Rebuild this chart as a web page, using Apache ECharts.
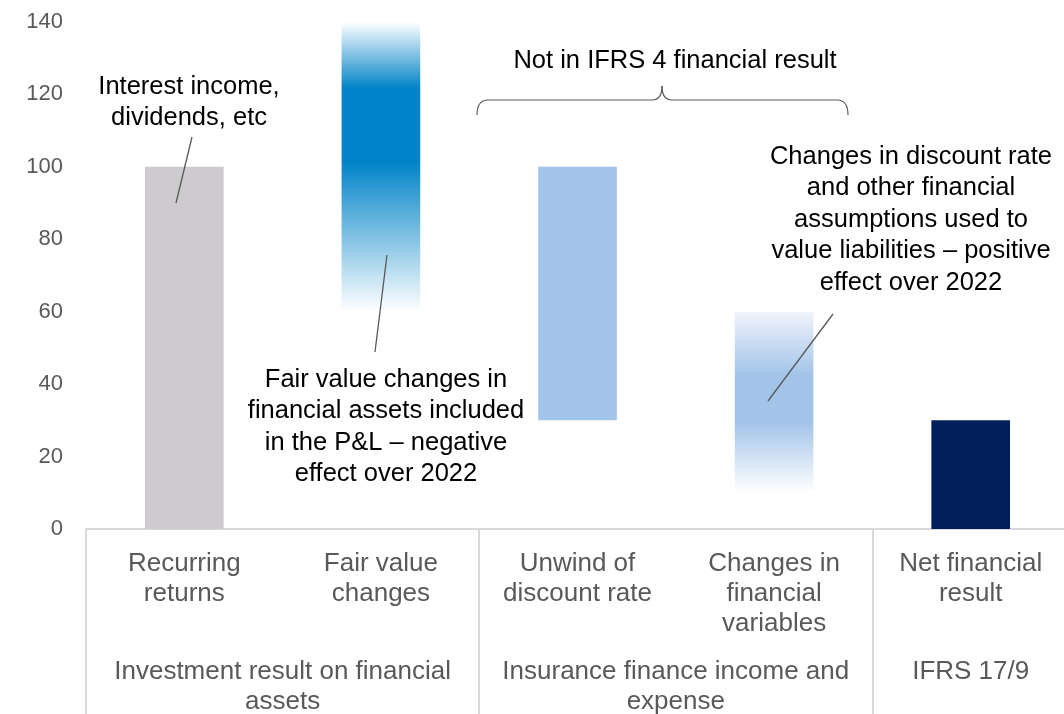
<!DOCTYPE html>
<html>
<head>
<meta charset="utf-8">
<script src="https://cdn.jsdelivr.net/npm/echarts@6/dist/echarts.min.js"></script>
<style>
  html, body { margin: 0; padding: 0; background: #fff; }
  #chart { width: 1064px; height: 714px; }
</style>
</head>
<body>
<div id="chart"></div>
<script>
// categories and grouping
const categories = ['Recurring\nreturns', 'Fair value\nchanges', 'Unwind of\ndiscount rate', 'Changes in\nfinancial\nvariables', 'Net financial\nresult'];
const groupLabels = ['Investment result on financial\nassets', 'Insurance finance income and\nexpense', 'IFRS 17/9'];
const groupCentres = [1, 3, 4.5];   // in category units along the axis
// floating bars: where each bar starts and ends
const barStart = [0, 60, 30, 10, 0];
const barEnd = [100, 140, 100, 60, 30];
const yTicks = [0, 140, 20];        // min, max, step

const font = 'Arial, "Liberation Sans", sans-serif';
const grey = '#595959';

function vgrad(stops) {
  return new echarts.graphic.LinearGradient(0, 0, 0, 1, stops.map(s => ({ offset: s[0], color: s[1] })));
}

const barColors = [
  '#CDCBCE',
  vgrad([[0, '#ffffff'], [0.23, '#0083C8'], [0.48, '#0083C8'], [1, '#ffffff']]),
  '#A3C4E9',
  vgrad([[0, '#F0F4FB'], [0.35, '#A3C4E9'], [0.61, '#A3C4E9'], [1, '#ffffff']]),
  '#001F5B'
];

const chart = echarts.init(document.getElementById('chart'), null, { renderer: 'canvas' });

const textStyle = { fill: '#000', font: '25.5px ' + font, textAlign: 'center', lineHeight: 31.5 };
const leader = { stroke: '#595959', lineWidth: 1.3 };
const brace = { stroke: '#595959', lineWidth: 1.2, fill: null };

// annotation layer drawn above the bars
const notes = [
  { type: 'text', x: 189, y: 71, style: Object.assign({ text: 'Interest income,\ndividends, etc' }, textStyle) },
  { type: 'line', shape: { x1: 192, y1: 137, x2: 176, y2: 203 }, style: leader },
  { type: 'text', x: 386, y: 364, style: Object.assign({ text: 'Fair value changes in\nfinancial assets included\nin the P&L \u2013 negative\neffect over 2022' }, textStyle) },
  { type: 'line', shape: { x1: 387, y1: 255, x2: 375, y2: 352 }, style: leader },
  { type: 'text', x: 911, y: 141, style: Object.assign({ text: 'Changes in discount rate\nand other financial\nassumptions used to\nvalue liabilities \u2013 positive\neffect over 2022' }, textStyle) },
  { type: 'line', shape: { x1: 833, y1: 314, x2: 768, y2: 401 }, style: leader },
  { type: 'text', x: 675, y: 45, style: Object.assign({ text: 'Not in IFRS 4 financial result' }, textStyle) },
  // curly brace over the two insurance items
  { type: 'bezierCurve', shape: { x1: 477, y1: 115, cpx1: 477, cpy1: 100, x2: 488, y2: 100 }, style: brace },
  { type: 'line', shape: { x1: 488, y1: 100, x2: 652, y2: 100 }, style: brace },
  { type: 'bezierCurve', shape: { x1: 652, y1: 100, cpx1: 662, cpy1: 100, x2: 662, y2: 86 }, style: brace },
  { type: 'bezierCurve', shape: { x1: 662, y1: 86, cpx1: 662, cpy1: 100, x2: 672, y2: 100 }, style: brace },
  { type: 'line', shape: { x1: 672, y1: 100, x2: 837, y2: 100 }, style: brace },
  { type: 'bezierCurve', shape: { x1: 837, y1: 100, cpx1: 848, cpy1: 100, x2: 848, y2: 115 }, style: brace }
].map(g => Object.assign({ z: 100 }, g));

chart.setOption({
  animation: false,
  grid: { left: 86, top: 22, width: 983, height: 507, outerBoundsMode: 'none' },
  xAxis: [
    {
      type: 'category',
      data: categories,
      axisLine: { lineStyle: { color: '#D9D9D9', width: 2 } },
      axisTick: { show: false },
      axisLabel: { color: grey, fontSize: 26, fontFamily: font, lineHeight: 30, margin: 20, interval: 0 }
    },
    {
      // group labels sit on a 0..5 value scale so they can be centred between categories
      type: 'value', position: 'bottom', min: 0, max: categories.length, interval: 0.5,
      axisLine: { show: false }, axisTick: { show: false }, splitLine: { show: false },
      axisLabel: {
        color: grey, fontSize: 26, fontFamily: font, lineHeight: 30, margin: 128,
        showMinLabel: false, showMaxLabel: false,
        formatter: v => { const i = groupCentres.indexOf(v); return i >= 0 ? groupLabels[i] : ''; }
      }
    },
    {
      // group separators
      type: 'value', position: 'bottom', min: 0, max: categories.length, interval: 2,
      axisLine: { show: false }, splitLine: { show: false }, axisLabel: { show: false },
      axisTick: { show: true, length: 190, lineStyle: { color: '#D9D9D9', width: 2 } }
    }
  ],
  yAxis: {
    type: 'value', min: yTicks[0], max: yTicks[1], interval: yTicks[2],
    axisLine: { show: false }, axisTick: { show: false }, splitLine: { show: false },
    axisLabel: { color: grey, fontSize: 22, fontFamily: font, margin: 23, padding: [4, 0, 0, 0] }
  },
  series: [
    {
      name: 'base', type: 'bar', stack: 'w', barWidth: '40%',
      itemStyle: { color: 'transparent' }, silent: true,
      data: barStart
    },
    {
      name: 'value', type: 'bar', stack: 'w', barWidth: '40%',
      data: barEnd.map((e, i) => ({ value: e - barStart[i], itemStyle: { color: barColors[i] } }))
    }
  ],
  graphic: notes
});
</script>
</body>
</html>
